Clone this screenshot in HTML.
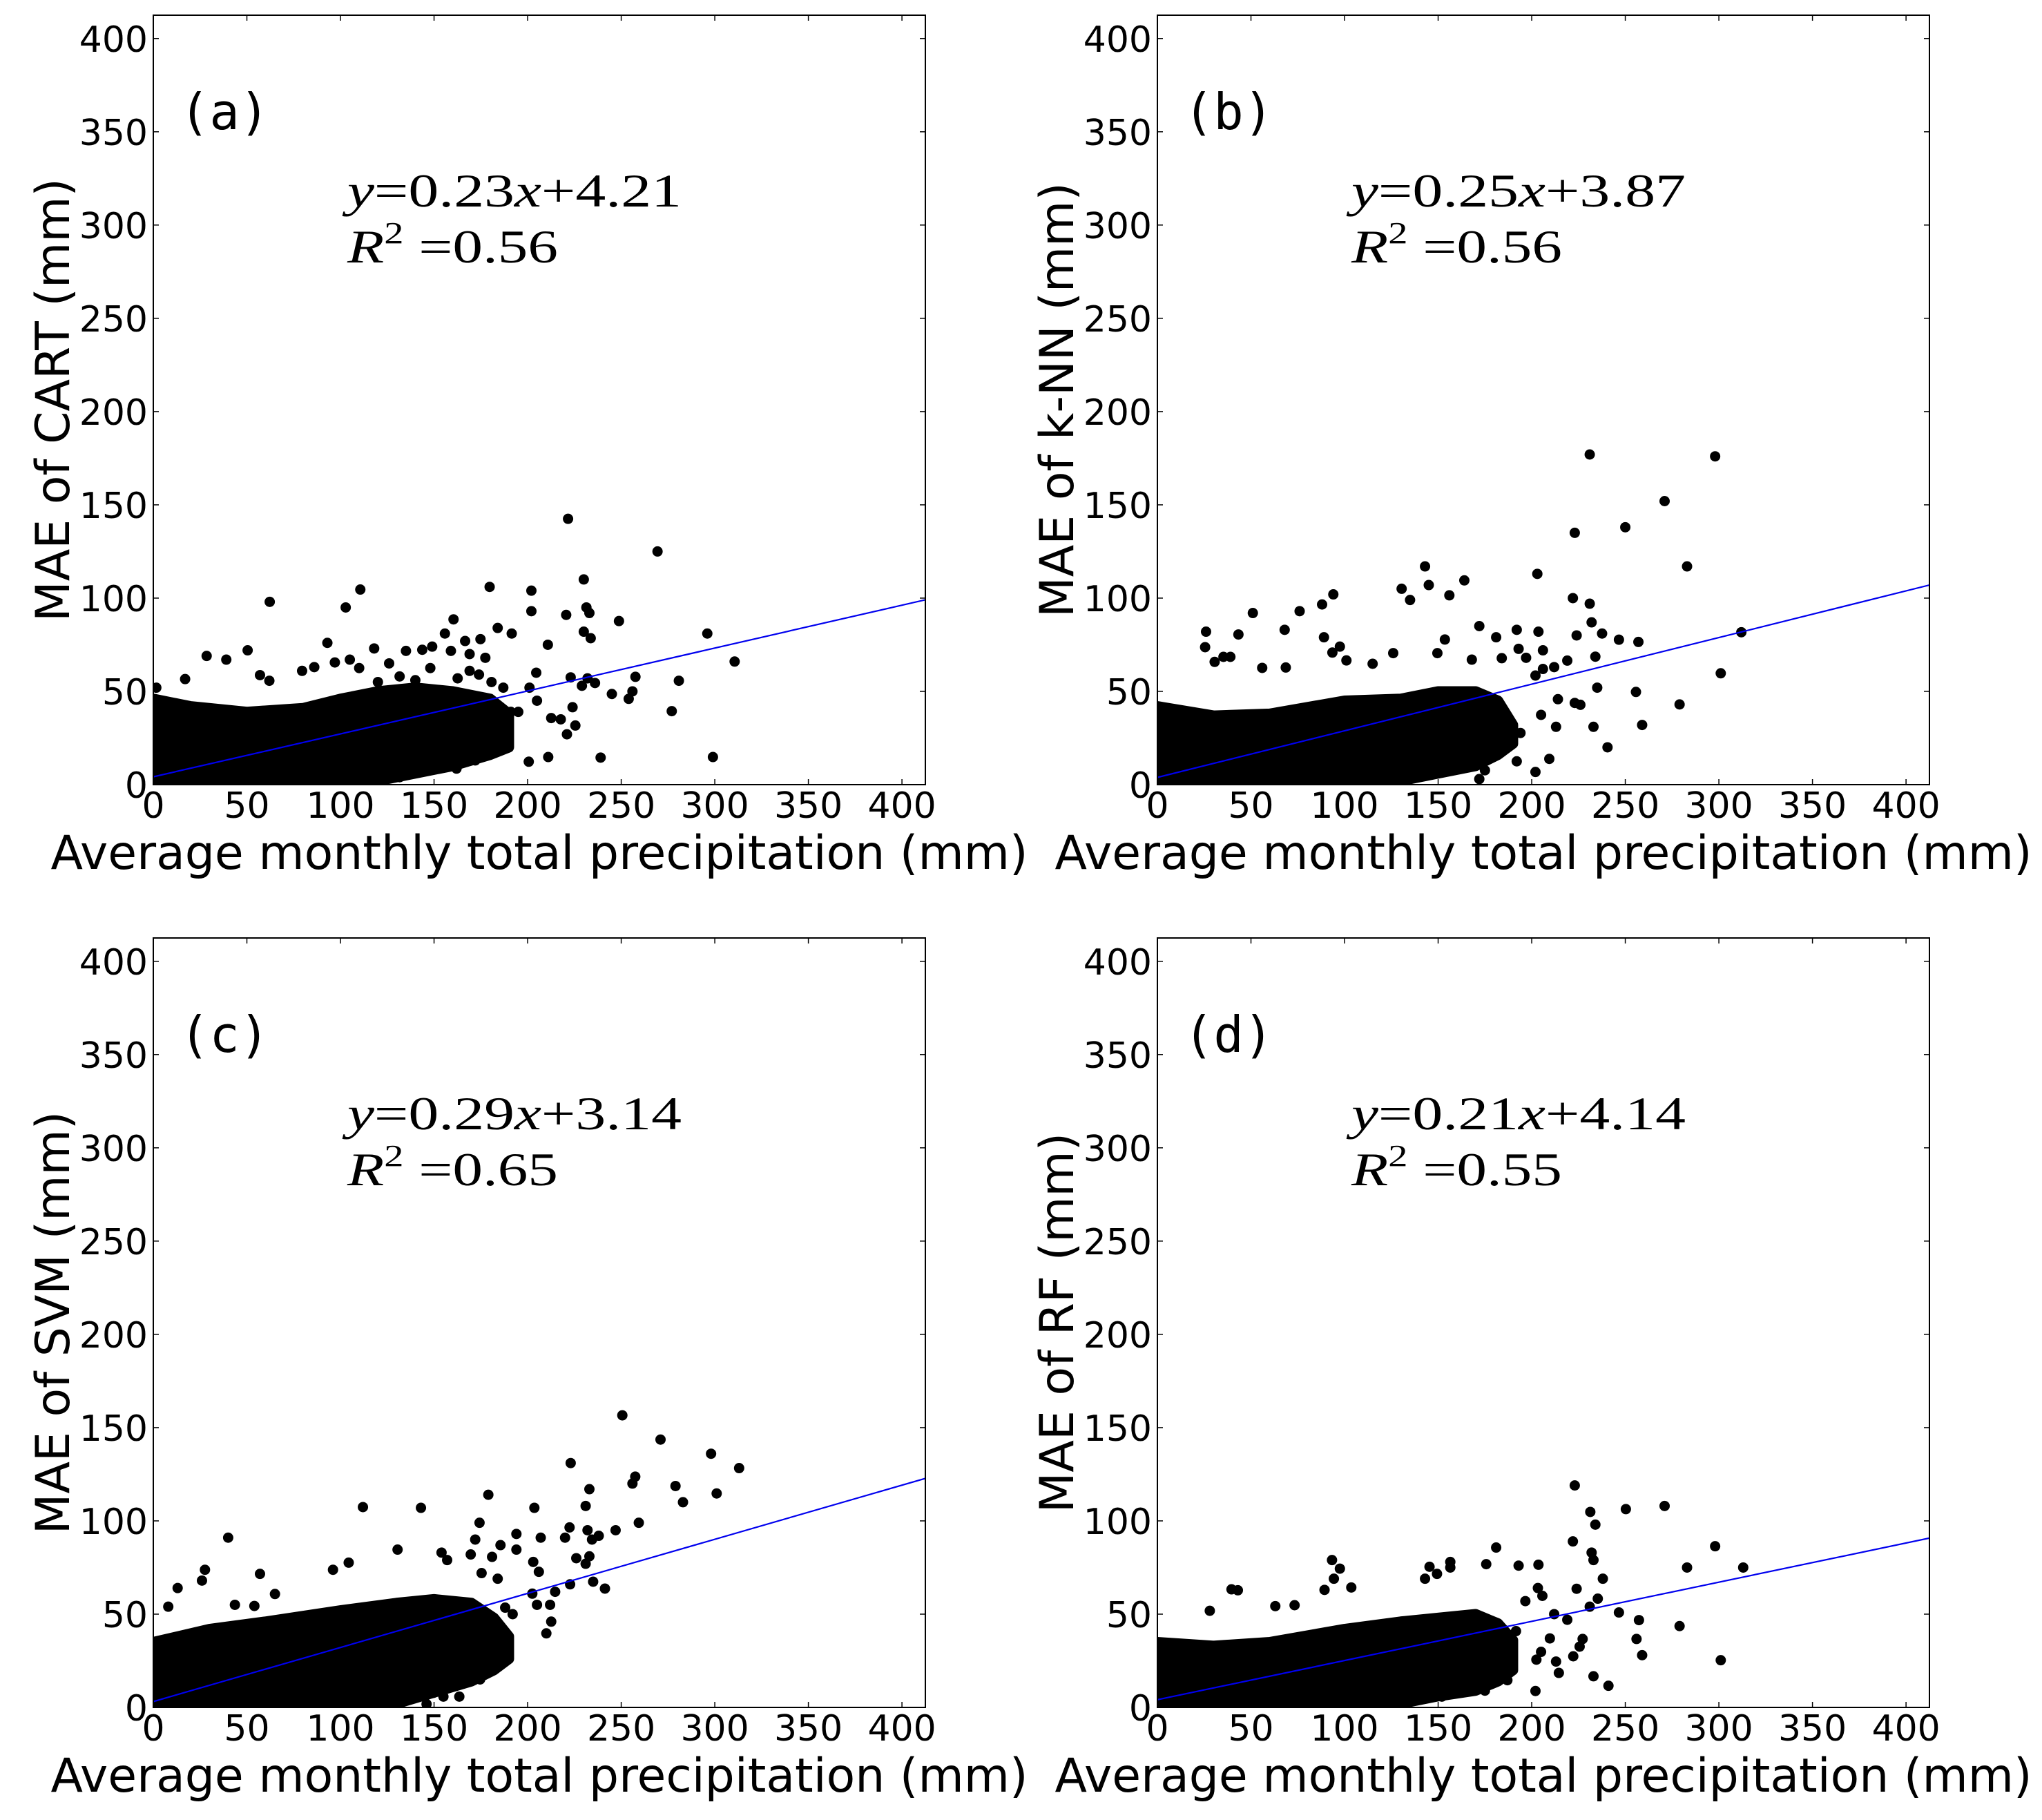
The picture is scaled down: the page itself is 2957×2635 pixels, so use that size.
<!DOCTYPE html>
<html><head><meta charset="utf-8"><title>MAE vs precipitation</title>
<style>
html,body{margin:0;padding:0;background:#fff;}
svg{display:block;}
.tick{font-family:"DejaVu Sans","Liberation Sans",sans-serif;font-size:52px;fill:#000;}
.axlab{font-family:"DejaVu Sans","Liberation Sans",sans-serif;font-size:68px;fill:#000;}
.plab{font-family:"DejaVu Sans Mono","Liberation Mono",monospace;font-size:72px;fill:#000;}
.eq{font-family:"Liberation Serif","DejaVu Serif",serif;font-size:68px;fill:#000;}
</style></head>
<body>
<svg id="fig" width="2957" height="2635" viewBox="0 0 2957 2635" xmlns="http://www.w3.org/2000/svg"></svg>
<script>
// ---- data ----
const xTicks = [0,50,100,150,200,250,300,350,400];
const yTicks = [0,50,100,150,200,250,300,350,400];

const aX = [221.6,269.4,110.6,102.8,62.2,179.7,202,202,230,220.6,231.4,233,230,233.7,248.8,296,310.6,280.8,277,299,239,211,200.6,225.5,221,224,217.7,212.6,236,229,232,257.6,256,254,245,223,204.6,205,201,210.8,191.5,184,160.4,155.8,166.6,174.8,177.4,118,50.4,28.5,39,17,1.6,57,62,93,97,79.5,135,143.7,149,140,126,105,86,110,120,131.6,148,159,169,174,180.7,187,187,182,172,162,180.7,191,195,169,162.6,152,131.6,122,113.6];
const aY = [142.5,125,104.6,95,98,106,104,93,110,91,95,92,82,78.5,87.7,81,66,55.7,39.4,14.8,14.5,14.8,12.3,31.7,27,41.5,35,35.7,54.5,53,57,57.8,50,46,48.6,57.5,60,45,52,75,81,84,88.6,81,77,78,68,73,72,69,67,56.6,52,58.7,55.7,76,65.5,61,71.7,72.3,74,56,65,67,63,62.5,55,58,62.5,71.7,70,59,55,52,33,21,13,8.6,26,39,39,61,57,44,4,5.5,1];
const aEnvX = [0,20,50,80,100,120,140,160,180,190];
const aEnvHi = [46,42,39,41,46,50,52,50,46,38];
const aEnvLo = [0,0,0,0,0,2,6,10,16,20];

const bX = [231,298,271,250,223,283,143,203,164,145,130.5,94,88,156,135,76,51,222,231,232,68,26,43.3,89,172,181,192,203.6,224,237.6,246.6,257,312,301,255.7,279,259,233,240.5,235,234,219,212,206,206,202,197,193,214,223,226,205,213,209.4,202,192,194,187,153.6,149.6,115,97.5,93.5,101,126,39,35.3,30.6,25.5,56,68.6,168,184,172,175];
const bY = [177,176,152,138,135,117,117,113,109.5,107,105,102,96.6,101.5,99,93,92,100,97,87,83,82,80.5,79,85,79,83,82,80,81,77.7,76.5,81.7,59.7,49.7,43,32,31,20,52,68.6,66.5,63,62,72,58.5,68,72.8,45.8,43.8,42.8,37.4,31,13.8,6.8,12.5,27.7,28,77.8,70.5,64.8,74,70.8,66.6,70.5,68.5,68.5,65.8,73.7,62.6,62.8,67,67.8,3,7.7];
const bEnvX = [0,30,60,100,130,150,170,182,190];
const bEnvHi = [42,37,38,45,46,50,50,45,32];
const bEnvLo = [0,0,0,0,2,6,10,16,22];

const cX = [250.6,271,298,313,223,257.5,256,279,301,283,233,231,179,203.6,143,112,40,259.4,174.3,194,207,222.4,232,238,247,220,234.4,172,185.5,130.5,194,154,157,169.6,181,226,233,231,203,206,235,241.3,222.7,214.7,212,212.6,210,202.5,205,104.4,96,27.6,57,26,13,65,43.6,8,54,163.5,155,149.6,146,174.6,169,185,180,157,153,137.6,130.7,107,112.7,186.6,192,188,184,175.4];
const cY = [156.6,143.6,136,128.3,131,123.7,120,118.7,114.7,110,117,108,114,107,107,107.4,91,99,99,93,91,96.5,95,92,95,91,90,90,87,84.6,84.6,83,79,82,80.7,80,81,77,78,72.7,67.4,63.7,66,62,55,46,39.7,61,55,77.6,73.8,73.8,71.6,68,64,60.8,55,54,54.4,5.8,5.8,7.8,1.8,15,15,27,25,17,19.7,8.5,10,1.8,8.5,40,50,53.5,69,72];
const cEnvX = [0,30,60,100,130,150,170,182,190];
const cEnvHi = [35,42,46,52,56,58,56,48,38];
const cEnvLo = [0,0,0,0,2,8,14,20,26];

const dX = [223,231.3,234,250.3,271,222,298,232,233,283,313,238,181,175.7,193,203.6,156.5,156.5,145.4,149.4,143,93.3,97.5,94.3,89.3,103.6,39.6,43,63,73.3,28,203.3,205.7,224,196.6,235.3,231,246.6,257.3,279,256,259,301,219,212,227.2,225.6,222.2,209.7,205,202.5,213,214.5,233,241,202,187,175,166,152,133,191.6,187];
const dY = [119,104.8,98,106.3,108,89,86.4,83,79,75,75,69,85.7,76.8,76,76.5,78,75,75.4,71.6,69,79,74.4,69,63,64.3,63.3,62.8,54.3,54.8,51.8,64,59.8,63.6,57,58.3,54,50.9,46.8,43.6,36.7,28,25.3,47,50,36.7,32.6,27.4,37,29.8,25.6,24.6,18.5,16.7,11.6,8.8,14.6,9,13,5.8,4.2,40.9,34];
const dEnvX = [0,30,60,100,130,150,170,182,190];
const dEnvHi = [35,33,35,42,46,48,50,45,36];
const dEnvLo = [0,0,0,0,2,6,9,14,20];

const slopes = [0.23,0.25,0.29,0.21];
const intercepts = [4.21,3.87,3.14,4.14];
const r2 = ["0.56","0.56","0.65","0.55"];
const models = ["CART","k-NN","SVM","RF"];
const letters = ["(a)","(b)","(c)","(d)"];

// ---- drawing ----
const NS = "http://www.w3.org/2000/svg";
const svg = document.getElementById("fig");
const XMAX = 412.5, YMAX = 412.5;
const PW = 1118, PH = 1114;
const origins = [[222,22],[1676,22],[222,1358],[1676,1358]];
const panelData = [[aX,aY,aEnvX,aEnvHi,aEnvLo],[bX,bY,bEnvX,bEnvHi,bEnvLo],[cX,cY,cEnvX,cEnvHi,cEnvLo],[dX,dY,dEnvX,dEnvHi,dEnvLo]];
const panelNames = ["panel-a","panel-b","panel-c","panel-d"];

function mk(tag, attrs, parent){
  const e = document.createElementNS(NS, tag);
  for (const k in attrs) e.setAttribute(k, attrs[k]);
  parent.appendChild(e);
  return e;
}

panelData.forEach((pd, i) => {
  const [ox, oy] = origins[i];
  const sx = v => ox + v / XMAX * PW;
  const sy = v => oy + PH - v / YMAX * PH;
  const g = mk("g", {}, svg);
  
  

  const cp = mk("clipPath", {id: "clip" + i}, g);
  mk("rect", {x: ox, y: oy, width: PW, height: PH}, cp);
  const plot = mk("g", {"clip-path": "url(#clip" + i + ")"}, g);
  
  

  const [xs, ys, ex, eh, el] = pd;
  let pts = [];
  for (let k = 0; k < ex.length; k++) pts.push(sx(ex[k]) + "," + sy(eh[k]));
  for (let k = ex.length - 1; k >= 0; k--) pts.push(sx(ex[k]) + "," + sy(el[k]));
  const poly = mk("polygon", {points: pts.join(" "), fill: "#000", stroke: "#000", "stroke-width": 15, "stroke-linejoin": "round"}, plot);
  
  

  for (let k = 0; k < xs.length; k++) {
    const c = mk("circle", {cx: sx(xs[k]), cy: sy(ys[k]), r: 7.5, fill: "#000"}, plot);
    
    
  }

  const ln = mk("line", {x1: sx(0), y1: sy(intercepts[i]), x2: sx(XMAX), y2: sy(slopes[i] * XMAX + intercepts[i]), stroke: "#0000ee", "stroke-width": 2.2}, plot);
  
  

  const fr = mk("rect", {x: ox, y: oy, width: PW, height: PH, fill: "none", stroke: "#000", "stroke-width": 2}, g);
  
  

  xTicks.forEach(t => {
    const X = sx(t);
    mk("line", {x1: X, y1: oy + PH, x2: X, y2: oy + PH - 8, stroke: "#000", "stroke-width": 1.5}, g);
    mk("line", {x1: X, y1: oy, x2: X, y2: oy + 8, stroke: "#000", "stroke-width": 1.5}, g);
    const tl = mk("text", {x: X, y: oy + PH + 48, "text-anchor": "middle", class: "tick"}, g);
    tl.textContent = t;
    
    
  });
  yTicks.forEach(t => {
    const Y = sy(t);
    mk("line", {x1: ox, y1: Y, x2: ox + 8, y2: Y, stroke: "#000", "stroke-width": 1.5}, g);
    mk("line", {x1: ox + PW, y1: Y, x2: ox + PW - 8, y2: Y, stroke: "#000", "stroke-width": 1.5}, g);
    const tl = mk("text", {x: ox - 8, y: Y + 19, "text-anchor": "end", class: "tick"}, g);
    tl.textContent = t;
    
    
  });

  const xt = mk("text", {x: ox + PW / 2, y: oy + PH + 122, "text-anchor": "middle", class: "axlab"}, g);
  xt.textContent = "Average monthly total precipitation (mm)";
  
  
  const ycx = ox - 122, ycy = oy + PH / 2;
  const yt = mk("text", {x: ycx, y: ycy, "text-anchor": "middle", class: "axlab", transform: "rotate(-90 " + ycx + " " + ycy + ")"}, g);
  yt.textContent = "MAE of " + models[i] + " (mm)";
  
  

  const pl = mk("text", {x: ox + 38, y: oy + 165, class: "plab"}, g);
  pl.textContent = letters[i];
  
  

  const eq = mk("text", {x: ox + 281, y: oy + 277, class: "eq", textLength: 484, lengthAdjust: "spacingAndGlyphs"}, g);
  
  
  const t1 = mk("tspan", {"font-style": "italic"}, eq); t1.textContent = "y";
  const t2 = mk("tspan", {}, eq); t2.textContent = "=" + slopes[i].toFixed(2);
  const t3 = mk("tspan", {"font-style": "italic"}, eq); t3.textContent = "x";
  const t4 = mk("tspan", {}, eq); t4.textContent = "+" + intercepts[i].toFixed(2);

  const rr = mk("text", {x: ox + 281, y: oy + 358, class: "eq", textLength: 305, lengthAdjust: "spacingAndGlyphs"}, g);
  
  
  const r1 = mk("tspan", {"font-style": "italic"}, rr); r1.textContent = "R";
  const r2s = mk("tspan", {dy: -28, "font-size": "44px"}, rr); r2s.textContent = "2";
  const r3 = mk("tspan", {dy: 28}, rr); r3.textContent = "  =" + r2[i];
});
</script>
</body></html>
